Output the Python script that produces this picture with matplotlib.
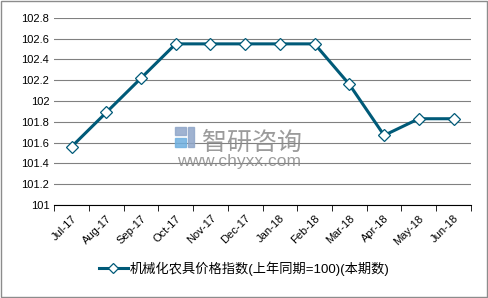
import matplotlib.pyplot as plt
import numpy as np

plt.rcParams['font.family'] = ['Liberation Sans', 'Noto Sans CJK SC', 'DejaVu Sans']

months = ['Jul-17', 'Aug-17', 'Sep-17', 'Oct-17', 'Nov-17', 'Dec-17',
          'Jan-18', 'Feb-18', 'Mar-18', 'Apr-18', 'May-18', 'Jun-18']
values = [101.56, 101.89, 102.22, 102.55, 102.55, 102.55,
          102.55, 102.55, 102.16, 101.67, 101.83, 101.83]
label = '机械化农具价格指数(上年同期=100)(本期数)'
yticks = [101, 101.2, 101.4, 101.6, 101.8, 102, 102.2, 102.4, 102.6, 102.8]

fig = plt.figure(figsize=(4.88, 2.98), dpi=100)
ax = fig.add_axes([0.111, 0.312, 0.854, 0.628])

x = np.arange(len(months))
ax.plot(x, values, color='#005a78', lw=2.2, marker='D', ms=6.5,
        mfc='white', mec='#005a78', mew=0.9, label=label, zorder=3)

ax.set_ylim(101, 102.8)
ax.set_yticks(yticks)
ax.set_yticklabels([f'{v:g}' for v in yticks], fontsize=8)
ax.yaxis.grid(True, color='#808080', lw=0.8)
ax.set_axisbelow(True)
ax.tick_params(axis='y', length=0)

ax.set_xlim(-0.5, len(months) - 0.5)
ax.set_xticks(x)
ax.set_xticklabels(months, rotation=45, fontsize=8, ha='right', rotation_mode='anchor')
ax.tick_params(axis='x', length=0, pad=6)
ax.set_xticks(np.arange(-0.5, len(months)), minor=True)
ax.tick_params(axis='x', which='minor', length=4, color='black', direction='out')

for s in ['top', 'right', 'left']:
    ax.spines[s].set_visible(False)
ax.spines['bottom'].set_color('black')

# watermark
fig.patches.append(plt.Rectangle((0.359, 0.547), 0.022, 0.027, transform=fig.transFigure,
                                 color='#8fa6c9', alpha=0.85, zorder=5))
fig.patches.append(plt.Rectangle((0.385, 0.507), 0.012, 0.067, transform=fig.transFigure,
                                 color='#8fa6c9', alpha=0.85, zorder=5))
fig.patches.append(plt.Rectangle((0.359, 0.507), 0.022, 0.030, transform=fig.transFigure,
                                 color='#6fb0e0', alpha=0.85, zorder=5))
fig.text(0.413, 0.497, '智研咨询', fontsize=18, color='#8a8a8a', alpha=0.85,
         family=['Noto Sans CJK SC'])
fig.text(0.362, 0.442, 'www.chyxx.com', fontsize=12.5, color='#8a8a8a', alpha=0.85)

ax.legend(loc='center', bbox_to_anchor=(0.5, 0.098), bbox_transform=fig.transFigure,
          frameon=False, handlelength=2.2, handletextpad=0.1, markerscale=0.75,
          prop={'family': ['Liberation Sans', 'Noto Sans CJK SC'], 'size': 9.5})

fig.patches.append(plt.Rectangle((0.002, 0.003), 0.995, 0.993, transform=fig.transFigure,
                                 fill=False, ec='#8c8c8c', lw=1))

fig.savefig('out.png', dpi=100)
